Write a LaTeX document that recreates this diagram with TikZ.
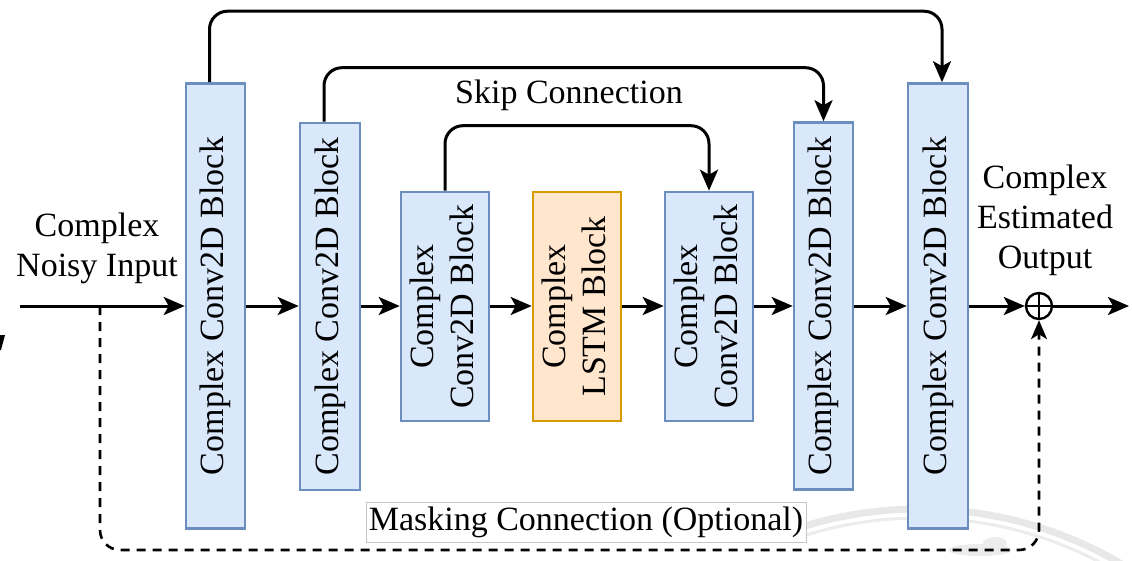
\documentclass[tikz,border=0pt]{standalone}
\usepackage{fontspec}
\setmainfont{Liberation Serif}
\usetikzlibrary{arrows.meta,calc}

\definecolor{blkfill}{HTML}{DAE8FC}
\definecolor{blkline}{HTML}{6C8EBF}
\definecolor{lstmfill}{HTML}{FFE6CC}
\definecolor{lstmline}{HTML}{D79B00}

\tikzset{
  blk/.style={draw=blkline, fill=blkfill, line width=2.6pt, inner sep=0pt,
    font=\fontsize{34}{40}\selectfont},
  lstmblk/.style={blk, draw=lstmline, fill=lstmfill},
  flow/.style={line width=3pt, -{Stealth[length=21pt,width=18pt,inset=5pt]}},
  skiparrow/.style={flow, rounded corners=18pt},
  maskarrow/.style={line width=2.6pt, dash pattern=on 9pt off 7pt, rounded corners=20pt,
    -{Stealth[length=19pt,width=16pt,inset=5pt]}},
  lbl/.style={align=center, font=\fontsize{34}{40}\selectfont, inner sep=0pt},
  wmark/.style={draw=gray!18, line width=7pt},
}

\newcommand{\vtext}[1]{\rotatebox{90}{\begin{tabular}{@{}c@{}}#1\end{tabular}}}

\begin{document}
\begin{tikzpicture}[x=1pt,y=-1pt]
  \useasboundingbox (0,0) rectangle (1132,560);

  % faint background seal
  \begin{scope}
    \clip (805,480) rectangle (1132,560);
    \draw[wmark] (920,905) circle[radius=396];
    \draw[draw=gray!15, line width=3pt] (920,905) circle[radius=387];
    \fill[gray!15] (980,550) ellipse[x radius=32, y radius=6];
    \fill[gray!15] (995,543) ellipse[x radius=12, y radius=6];
  \end{scope}

  % stray mark at the left edge
  \fill (0,335) -- (5,335) -- (1,350) -- (0,350) -- cycle;

  % encoder / decoder blocks
  \node[blk, minimum width=59pt, minimum height=445pt] (b1) at (215.5,306) {\vtext{Complex Conv2D Block}};
  \node[blk, minimum width=60pt, minimum height=367pt] (b2) at (330,306.5) {\vtext{Complex Conv2D Block}};
  \node[blk, minimum width=88pt, minimum height=229pt] (b3) at (445,306.5) {\vtext{Complex\\Conv2D Block}};
  \node[lstmblk, minimum width=88pt, minimum height=229pt] (b4) at (577,306.5) {\vtext{Complex\\LSTM Block}};
  \node[blk, minimum width=88pt, minimum height=229pt] (b5) at (709,306.5) {\vtext{Complex\\Conv2D Block}};
  \node[blk, minimum width=59pt, minimum height=367pt] (b6) at (823.5,306) {\vtext{Complex Conv2D Block}};
  \node[blk, minimum width=60pt, minimum height=445pt] (b7) at (938,306) {\vtext{Complex Conv2D Block}};

  % summation point
  \node[circle, draw, line width=2.4pt, minimum size=26pt, inner sep=0pt] (sum) at (1039,306) {};
  \draw[line width=2.4pt] (sum.north) -- (sum.south) (sum.west) -- (sum.east);

  % labels
  \node[lbl] (inlbl) at (97,248) {Complex\\Noisy Input};
  \node[lbl] (outlbl) at (1045,220) {Complex\\Estimated\\Output};
  \node[lbl] (skiplbl) at (569,95) {Skip Connection};
  \node[lbl, draw=gray!45, line width=0.8pt, fill=white, inner xsep=1pt,
        minimum width=440pt, minimum height=40pt] (masklbl) at (586,522) {Masking Connection (Optional)};

  % end points
  \coordinate (src) at (20,306);
  \coordinate (dst) at (1129,306);
  \coordinate (mtap) at (100,306);
  \coordinate (mbot) at (500,550);

  % main signal path
  \draw[flow] (src) -- (b1.west);
  \draw[flow] (b1.east) -- (b2.west |- b1.east);
  \draw[flow] (b2.east |- b1.east) -- (b3.west |- b1.east);
  \draw[flow] (b3.east |- b1.east) -- (b4.west |- b1.east);
  \draw[flow] (b4.east |- b1.east) -- (b5.west |- b1.east);
  \draw[flow] (b5.east |- b1.east) -- (b6.west |- b1.east);
  \draw[flow] (b6.east |- b1.east) -- (b7.west);
  \draw[flow] (b7.east) -- (sum.west);
  \draw[flow] (sum.east) -- (dst);

  % skip connections
  \draw[skiparrow] ([xshift=-6pt]b1.north) -- ++(0,-71) -| ([xshift=4pt]b7.north);
  \draw[skiparrow] ([xshift=-6pt]b2.north) -- ++(0,-54) -| (b6.north);
  \draw[skiparrow] (b3.north) -- ++(0,-65) -| (b5.north);

  % masking connection
  \draw[maskarrow] (mtap) |- (mbot) -| (sum.south);
\end{tikzpicture}
\end{document}
